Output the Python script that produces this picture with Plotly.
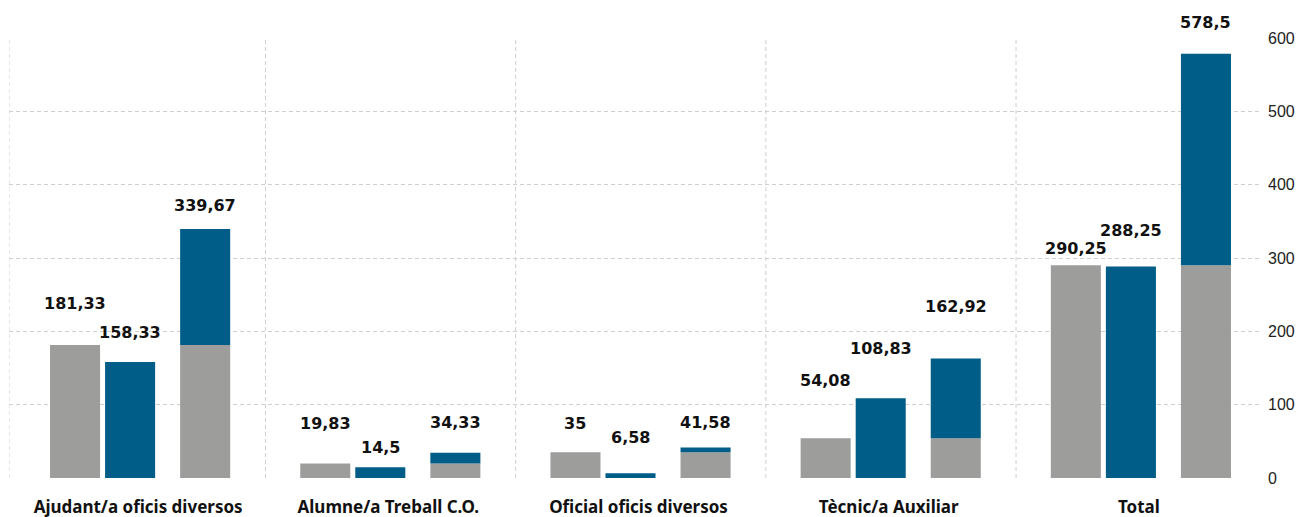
import plotly.graph_objects as go

# Data
categories = ["Ajudant/a oficis diversos", "Alumne/a Treball C.O.",
              "Oficial oficis diversos", "Tècnic/a Auxiliar", "Total"]
grey_values = [181.33, 19.83, 35, 54.08, 290.25]
blue_values = [158.33, 14.5, 6.58, 108.83, 288.25]
sum_values = [339.67, 34.33, 41.58, 162.92, 578.5]
y_ticks = [0, 100, 200, 300, 400, 500, 600]

GREY = "#9d9d9c"
BLUE = "#005d87"
GRID = "#cfcfcf"

# Bar layout within each category slot (axis units)
BAR_W = 0.2
OFF_GREY, OFF_BLUE, OFF_SUM = -0.336, -0.116, 0.184

# Distance (px) from bar top to label centre
lift_grey = [42, 40, 29, 58, 17]
lift_blue = [29, 20, 36, 50, 36]
lift_sum = [23, 30, 25, 52, 31]


def fmt(v):
    return f"{v:g}".replace(".", ",")


fig = go.Figure()
fig.add_trace(go.Bar(x=categories, y=grey_values, offset=OFF_GREY, width=BAR_W,
                     marker=dict(color=GREY, line=dict(width=0)), hoverinfo="skip"))
fig.add_trace(go.Bar(x=categories, y=blue_values, offset=OFF_BLUE, width=BAR_W,
                     marker=dict(color=BLUE, line=dict(width=0)), hoverinfo="skip"))
fig.add_trace(go.Bar(x=categories, y=grey_values, offset=OFF_SUM, width=BAR_W,
                     marker=dict(color=GREY, line=dict(width=0)), hoverinfo="skip"))
fig.add_trace(go.Bar(x=categories, y=[s - g for s, g in zip(sum_values, grey_values)],
                     base=grey_values, offset=OFF_SUM, width=BAR_W,
                     marker=dict(color=BLUE, line=dict(width=0)), hoverinfo="skip"))

label_font = dict(family="DejaVu Sans", size=16, color="#111111", weight=700)
for i in range(len(categories)):
    for vals, off, lifts in ((grey_values, OFF_GREY, lift_grey),
                             (blue_values, OFF_BLUE, lift_blue),
                             (sum_values, OFF_SUM, lift_sum)):
        fig.add_annotation(x=i + off + BAR_W / 2, y=vals[i], text=fmt(vals[i]),
                           showarrow=False, xanchor="center", yanchor="middle",
                           yshift=lifts[i], font=label_font)

# Vertical dashed separators between categories
for i in range(len(categories)):
    xpos = -0.5 if i == 0 else i - 0.475
    fig.add_shape(type="line", xref="x", yref="paper", x0=xpos, x1=xpos, y0=0, y1=1,
                  line=dict(color=GRID, width=1, dash="4px,3px"), layer="below")

fig.update_layout(
    width=1298, height=517,
    margin=dict(l=9, r=38, t=38, b=39, autoexpand=False),
    paper_bgcolor="white", plot_bgcolor="white",
    barmode="overlay", showlegend=False,
    xaxis=dict(range=[-0.5, 4.5], showgrid=False, zeroline=False, showline=False,
               automargin=False, ticks="", ticklabelstandoff=17, ticklabelshift=4,
               tickfont=dict(family="Noto Sans", size=17, color="#111111", weight=700)),
    yaxis=dict(range=[0, 600], side="right", tickvals=y_ticks, automargin=False,
               showgrid=True, gridcolor=GRID, griddash="4px,3px", gridwidth=1,
               zeroline=False, showline=False, ticks="", ticklabelstandoff=7,
               tickfont=dict(family="Liberation Sans", size=16, color="#222222")),
)

fig.write_html("out.html")
